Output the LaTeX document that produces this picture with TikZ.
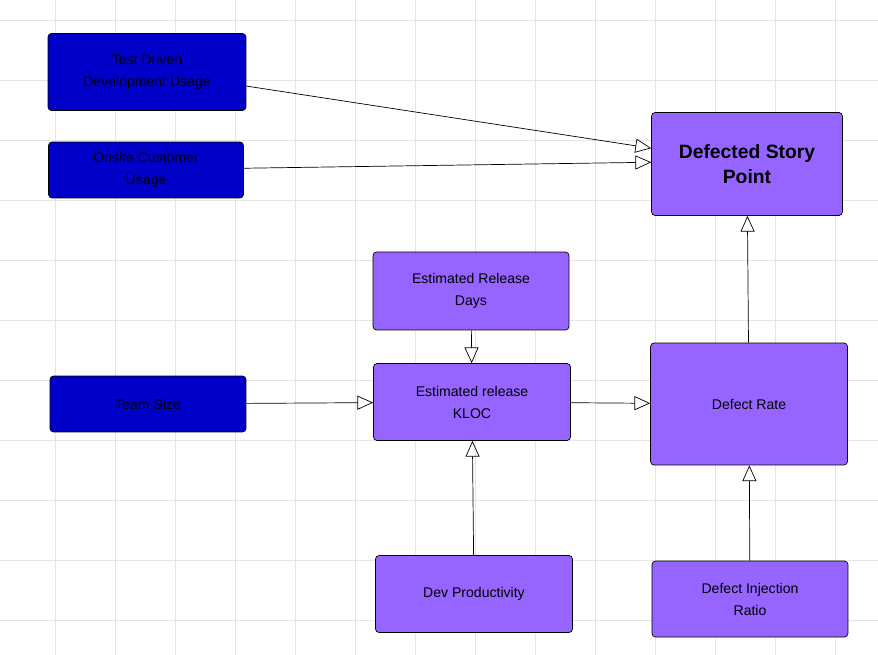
\documentclass[tikz,border=0pt]{standalone}
\usepackage{fontspec}
\setmainfont{Liberation Sans}
\usetikzlibrary{arrows.meta}
\definecolor{darkbox}{RGB}{0,0,200}
\definecolor{lightbox}{RGB}{150,100,255}
\tikzset{
    base/.style={draw=black, rounded corners=2pt, align=center, font=\fontsize{8}{12.5}\selectfont, inner sep=0pt},
    input/.style={base, fill=darkbox},
    calc/.style={base, fill=lightbox},
    link/.style={-{Triangle[open, length=9pt, width=8pt]}, black}
}
\begin{document}
\begin{tikzpicture}[x=0.02cm, y=-0.02cm]
    \useasboundingbox (0,0) rectangle (878,655);
    \fill[white] (0,0) rectangle (878,655);

    % background grid
    \foreach \x in {55,115,...,875} \draw[black!10] (\x,0) -- (\x,655);
    \foreach \y in {20,80,...,650} \draw[black!10] (0,\y) -- (878,\y);

    % inputs
    \node[input, minimum width=3.96cm, minimum height=1.54cm] (tdd) at (147,72) {Test Driven\\Development Usage};
    \node[input, minimum width=3.9cm, minimum height=1.12cm] (onsite) at (146,170) {Onsite Customer\\Usage};
    \node[input, minimum width=3.92cm, minimum height=1.12cm] (team) at (148,404) {Team Size};

    % computed nodes
    \node[calc, minimum width=3.82cm, minimum height=2.06cm, font=\bfseries\fontsize{11}{14}\selectfont] (dsp) at (747,164) {Defected Story\\Point};
    \node[calc, minimum width=3.92cm, minimum height=1.56cm] (days) at (471,291) {Estimated Release\\Days};
    \node[calc, minimum width=3.94cm, minimum height=1.54cm] (kloc) at (472,402) {Estimated release\\KLOC};
    \node[calc, minimum width=3.94cm, minimum height=2.44cm] (rate) at (749,404) {Defect Rate};
    \node[calc, minimum width=3.94cm, minimum height=1.54cm] (prod) at (474,594) {Dev Productivity};
    \node[calc, minimum width=3.92cm, minimum height=1.52cm] (inject) at (750,599) {Defect Injection\\Ratio};

    % connectors
    \draw[link] ([yshift=-8pt]tdd.east) -- ([yshift=9pt]dsp.west);
    \draw[link] ([yshift=1pt]onsite.east) -- ([yshift=1pt]dsp.west);
    \draw[link] (team) -- (kloc);
    \draw[link] (days) -- (kloc);
    \draw[link] (prod) -- (kloc);
    \draw[link] (kloc) -- (rate);
    \draw[link] (inject) -- (rate);
    \draw[link] (rate) -- (dsp);
\end{tikzpicture}
\end{document}
